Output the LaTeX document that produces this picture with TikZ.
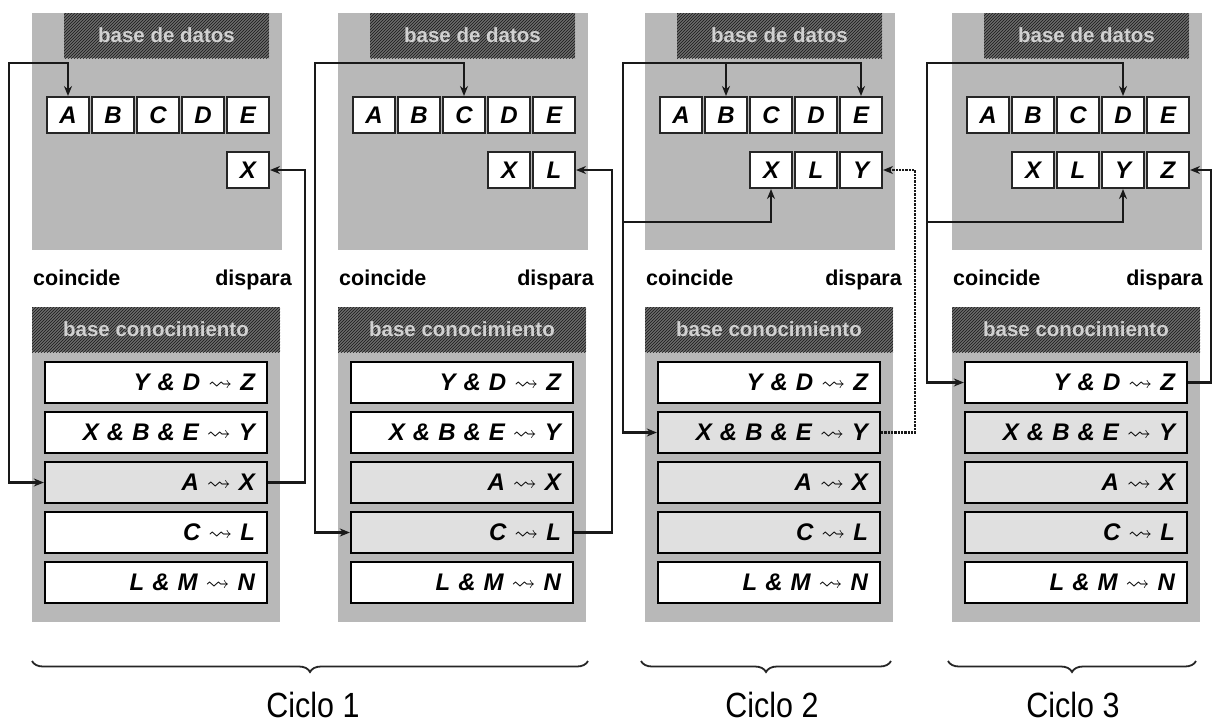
\documentclass[tikz,border=0pt]{standalone}
\usepackage{fontspec}
\usepackage{amssymb}
\setmainfont{Liberation Sans}
\newfontfamily\ciclofont[FakeStretch=0.87]{Liberation Sans}
\usetikzlibrary{arrows.meta,decorations.pathreplacing,patterns}
\tikzset{
  cell/.style={draw=black!85, line width=2pt, fill=white, minimum width=42pt, minimum height=36pt, inner sep=0pt, font=\fontsize{24}{26}\selectfont\bfseries\itshape},
  rulebox/.style={draw=black, line width=2.3pt, minimum width=222pt, minimum height=41pt, inner sep=0pt, text width=198pt, align=right, font=\fontsize{24}{26}\selectfont\bfseries\itshape},
  dbzone/.style={fill=black!28},
  headbox/.style={fill=black!58, postaction={pattern=north east lines, pattern color=black!90}, inner sep=0pt, text=black!18, font=\fontsize{20.5}{22}\selectfont\bfseries},
  lbl/.style={font=\fontsize{21.5}{23}\selectfont\bfseries, inner sep=0pt},
  conn/.style={draw=black!90, line width=2.3pt},
  bracestyle/.style={decorate, decoration={brace, mirror, amplitude=11pt}, line width=1.8pt, draw=black!85},
  ciclo/.style={font=\ciclofont\fontsize{35}{38}\selectfont},
}
% #1 name, #2 x0, #3 second row list, #4-#8 rule fills, #9 x of right end of "dispara"
\newcommand\drawpanel[9]{%
  \begin{scope}[xshift=#2pt]
    \fill[dbzone] (0,13) rectangle (250,250);
    \node[headbox, minimum width=205pt, minimum height=45pt] (#1dbh) at (134.5,35.5) {base de datos};
    \foreach \l [count=\c from 0] in {A,B,C,D,E}
      \node[cell] (#1\l) at ({36+45*\c},115) {\l};
    \foreach \c/\l in {#3}
      \node[cell] (#1\l) at ({36+45*\c},170) {\l};
    \node[lbl, anchor=base west] (#1co) at (1,285) {coincide};
    \node[lbl, anchor=base east] (#1di) at (#9,285) {dispara};
    \fill[dbzone] (0,307) rectangle (248,622);
    \node[headbox, minimum width=248pt, minimum height=45pt] (#1kbh) at (124,329.5) {base conocimiento};
    \node[rulebox, fill=#4] (#1r1) at (124,382.5) {Y \& D $\rightsquigarrow$ Z};
    \node[rulebox, fill=#5] (#1r2) at (124,432.5) {X \& B \& E $\rightsquigarrow$ Y};
    \node[rulebox, fill=#6] (#1r3) at (124,482.5) {A $\rightsquigarrow$ X};
    \node[rulebox, fill=#7] (#1r4) at (124,532.5) {C $\rightsquigarrow$ L};
    \node[rulebox, fill=#8] (#1r5) at (124,582.5) {L \& M $\rightsquigarrow$ N};
  \end{scope}}
\begin{document}
\begin{tikzpicture}[x=1pt,y=-1pt, >={Stealth[length=10pt,width=8pt]}]
\useasboundingbox (0,0) rectangle (1213,724);
\fill[white] (0,0) rectangle (1213,724);

\drawpanel{p1}{32}{4/X}{white}{white}{black!12}{white}{white}{260}
\drawpanel{p2}{338}{3/X,4/L}{white}{white}{black!12}{black!12}{white}{256}
\drawpanel{p3}{645}{2/X,3/L,4/Y}{white}{black!12}{black!12}{black!12}{white}{257}
\drawpanel{p4}{952}{1/X,2/L,3/Y,4/Z}{white}{black!12}{black!12}{black!12}{white}{251}

% Ciclo 1, panel 1
\coordinate (p1cl) at (9,63);
\coordinate (p1cr) at (305,170);
\draw[conn,<->] (p1A.north) |- (p1cl) |- (p1r3.west);
\draw[conn,->] (p1r3.east) -| (p1cr) |- (p1X.east);

% Ciclo 1, panel 2
\coordinate (p2cl) at (315,63);
\coordinate (p2cr) at (612,170);
\draw[conn,<->] (p2C.north) |- (p2cl) |- (p2r4.west);
\draw[conn,->] (p2r4.east) -| (p2cr) |- (p2L.east);

% Ciclo 2
\coordinate (p3cl) at (623,63);
\coordinate (p3cll) at (623,222);
\coordinate (p3cr) at (915,170);
\draw[conn,<->] (p3E.north) |- (p3cl) |- (p3r2.west);
\draw[conn,->] (p3B.north |- p3cl) -- (p3B.north);
\draw[conn,->] (p3cll) -| (p3X.south);
\draw[conn,densely dotted,->] (p3r2.east) -| (p3cr) |- (p3Y.east);

% Ciclo 3
\coordinate (p4cl) at (927,63);
\coordinate (p4cll) at (927,222);
\coordinate (p4cr) at (1211,170);
\draw[conn,<->] (p4D.north) |- (p4cl) |- (p4r1.west);
\draw[conn,->] (p4cll) -| (p4Y.south);
\draw[conn,->] (p4r1.east) -| (p4cr) |- (p4Z.east);

% braces
\coordinate (b1l) at (32,661); \coordinate (b1r) at (588,661);
\coordinate (b2l) at (641,661); \coordinate (b2r) at (891,661);
\coordinate (b3l) at (948,661); \coordinate (b3r) at (1196,661);
\draw[bracestyle] (b1l) -- (b1r);
\draw[bracestyle] (b2l) -- (b2r);
\draw[bracestyle] (b3l) -- (b3r);
\node[ciclo] (c1) at (313,705) {Ciclo 1};
\node[ciclo] (c2) at (772,705) {Ciclo 2};
\node[ciclo] (c3) at (1073,705) {Ciclo 3};
\end{tikzpicture}
\end{document}
